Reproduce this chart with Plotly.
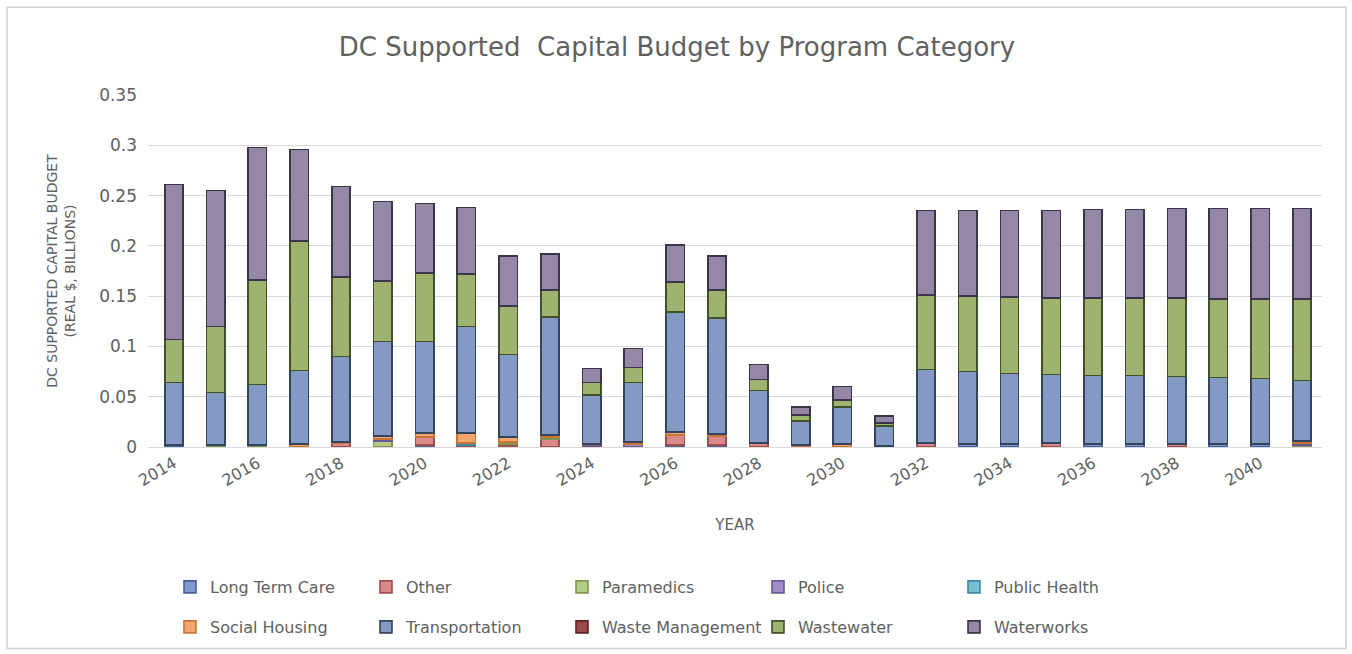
import plotly.graph_objects as go

years = list(range(2014, 2042))

long_term_care = [0.002, 0.001, 0.001, 0.000, 0.000, 0.000, 0.002, 0.000, 0.001, 0.000,
                  0.002, 0.000, 0.002, 0.002, 0.000, 0.001, 0.000, 0.001, 0.000, 0.003,
                  0.003, 0.000, 0.003, 0.003, 0.000, 0.003, 0.003, 0.000]
other = [0.000, 0.000, 0.000, 0.000, 0.004, 0.000, 0.008, 0.002, 0.002, 0.008,
         0.001, 0.000, 0.010, 0.009, 0.004, 0.000, 0.000, 0.000, 0.004, 0.000,
         0.000, 0.004, 0.000, 0.000, 0.003, 0.000, 0.000, 0.000]
paramedics = [0.000, 0.001, 0.001, 0.000, 0.000, 0.006, 0.000, 0.000, 0.002, 0.002,
              0.000, 0.000, 0.000, 0.000, 0.000, 0.000, 0.000, 0.000, 0.000, 0.000,
              0.000, 0.000, 0.000, 0.000, 0.000, 0.000, 0.000, 0.002]
police = [0.000, 0.000, 0.000, 0.000, 0.000, 0.002, 0.000, 0.000, 0.000, 0.000,
          0.000, 0.003, 0.000, 0.000, 0.000, 0.000, 0.000, 0.000, 0.000, 0.000,
          0.000, 0.000, 0.000, 0.000, 0.000, 0.000, 0.000, 0.002]
public_health = [0.000, 0.000, 0.000, 0.000, 0.000, 0.000, 0.000, 0.002, 0.000, 0.000,
                 0.000, 0.000, 0.000, 0.000, 0.000, 0.000, 0.000, 0.000, 0.000, 0.000,
                 0.000, 0.000, 0.000, 0.000, 0.000, 0.000, 0.000, 0.000]
social_housing = [0.000, 0.000, 0.000, 0.003, 0.001, 0.003, 0.004, 0.010, 0.005, 0.002,
                  0.000, 0.002, 0.003, 0.002, 0.000, 0.001, 0.003, 0.000, 0.000, 0.000,
                  0.000, 0.000, 0.000, 0.000, 0.000, 0.000, 0.000, 0.002]
transportation = [0.062, 0.052, 0.060, 0.073, 0.085, 0.094, 0.091, 0.106, 0.082, 0.117,
                  0.049, 0.059, 0.119, 0.115, 0.052, 0.024, 0.037, 0.020, 0.073, 0.072,
                  0.070, 0.068, 0.068, 0.068, 0.067, 0.066, 0.065, 0.060]
waste_management = [0.000] * 28
wastewater = [0.043, 0.066, 0.104, 0.129, 0.079, 0.060, 0.068, 0.052, 0.048, 0.027,
              0.012, 0.015, 0.030, 0.028, 0.011, 0.006, 0.007, 0.003, 0.074, 0.075,
              0.076, 0.076, 0.077, 0.077, 0.078, 0.078, 0.079, 0.081]
waterworks = [0.154, 0.135, 0.132, 0.091, 0.090, 0.079, 0.069, 0.066, 0.050, 0.036,
              0.014, 0.019, 0.037, 0.034, 0.015, 0.008, 0.013, 0.007, 0.084, 0.085,
              0.086, 0.087, 0.088, 0.088, 0.089, 0.090, 0.090, 0.090]

# name, values, fill, outline, legend row
series = [
    ("Long Term Care", long_term_care, "#8197cf", "#4a5d94", "legend"),
    ("Other", other, "#d9898a", "#a04d4e", "legend"),
    ("Paramedics", paramedics, "#b3cc86", "#7d9650", "legend"),
    ("Police", police, "#a08cc8", "#6b5894", "legend"),
    ("Public Health", public_health, "#79bfd4", "#3f8aa0", "legend"),
    ("Social Housing", social_housing, "#f4a56e", "#c87538", "legend2"),
    ("Transportation", transportation, "#839bc4", "#34445f", "legend2"),
    ("Waste Management", waste_management, "#9a4a4c", "#5e2224", "legend2"),
    ("Wastewater", wastewater, "#9db36f", "#3f5228", "legend2"),
    ("Waterworks", waterworks, "#9487a8", "#3c3548", "legend2"),
]

fig = go.Figure()
for name, vals, fill, edge, leg in series:
    fig.add_trace(go.Bar(
        x=years, y=vals, name=name, legend=leg,
        marker=dict(color=fill, line=dict(color=edge, width=1.6)),
    ))

text_col = "#606060"
font_family = "DejaVu Sans"
L, R, T, B = 148, 30, 95, 206
W, H = 1352, 654
pw, ph = W - L - R, H - T - B

def px(xp):
    return (xp - L) / pw

def py(yp):
    return (H - B - yp) / ph

legend_common = dict(
    orientation="h", xanchor="left", yanchor="middle",
    font=dict(family=font_family, size=16, color=text_col),
    entrywidth=151, itemwidth=30, bgcolor="rgba(0,0,0,0)",
    traceorder="normal",
)

fig.update_layout(
    width=W, height=H,
    margin=dict(l=L, r=R, t=T, b=B),
    barmode="stack", bargap=0.56,
    paper_bgcolor="white", plot_bgcolor="white",
    title=dict(text="DC Supported  Capital Budget by Program Category",
               x=px(677), xanchor="center", xref="paper", y=1 - 47 / H, yanchor="middle",
               font=dict(family=font_family, size=26, color=text_col)),
    legend=dict(x=px(170), y=py(587), **legend_common),
    legend2=dict(x=px(170), y=py(627), **legend_common),
    xaxis=dict(
        tickmode="array", tickvals=years[::2], ticktext=[str(y) for y in years[::2]],
        tickangle=-30, tickfont=dict(family=font_family, size=16, color=text_col),
        showgrid=False, showline=True, linecolor="#d9d9d9", linewidth=1,
        range=[2013.38, 2041.48],
        title=dict(text="YEAR", font=dict(family=font_family, size=15, color=text_col),
                   standoff=30),
    ),
    yaxis=dict(
        range=[0, 0.35], dtick=0.05, tickformat="~g",
        tickfont=dict(family=font_family, size=17, color=text_col),
        ticklabelstandoff=10,
        gridcolor="#d9d9d9", gridwidth=1, zeroline=False, showline=False,
        ticks="", ticklen=0,
        title=dict(text="DC SUPPORTED CAPITAL BUDGET<br>(REAL $, BILLIONS)",
                   font=dict(family=font_family, size=14, color=text_col), standoff=20),
    ),
    shapes=[dict(type="rect", xref="paper", yref="paper",
                 x0=px(7), x1=px(1346), y0=py(650), y1=py(7),
                 line=dict(color="#d0d0d0", width=1.5), fillcolor="rgba(0,0,0,0)",
                 layer="below")],
)

fig.write_html("out.html")
